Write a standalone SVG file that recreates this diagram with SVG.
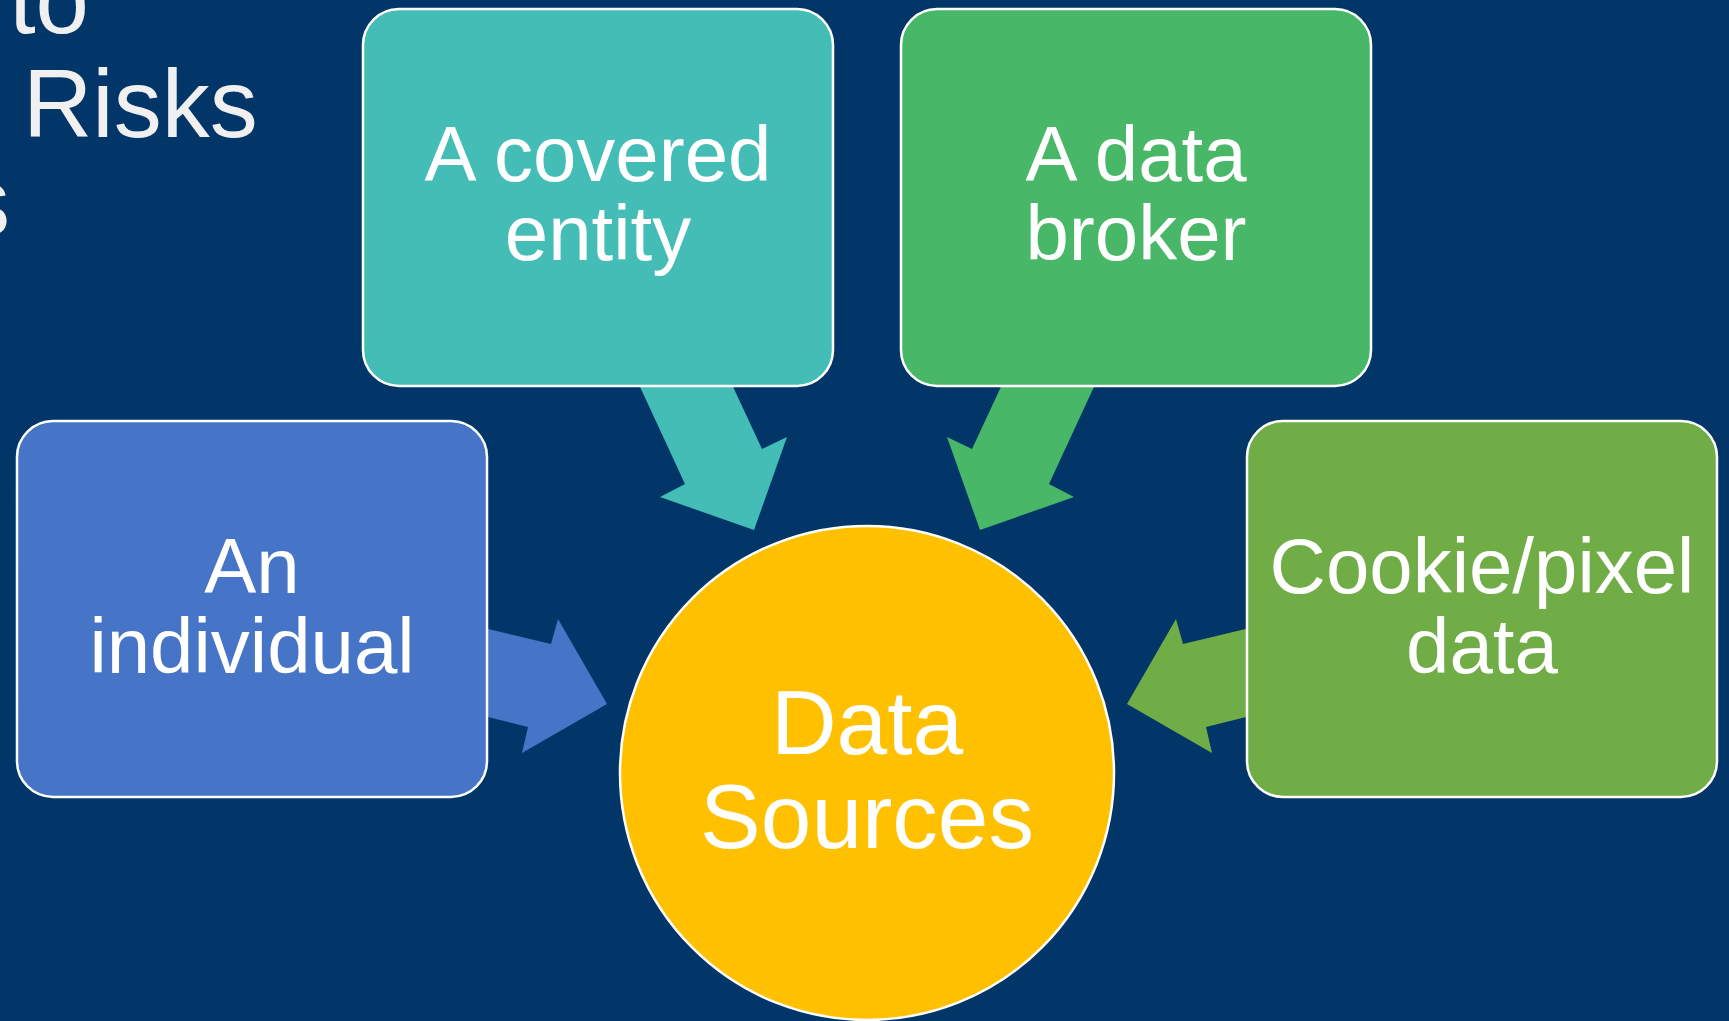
<svg xmlns="http://www.w3.org/2000/svg" width="1729" height="1021" viewBox="0 0 1729 1021">
  <style>
    .title { font-family: "Liberation Sans", Arial, sans-serif; font-size: 96px; fill: #F0F0F0; }
    .box { stroke: #FFFFFF; stroke-width: 2.5; }
    .label { font-family: "Liberation Sans", Arial, sans-serif; font-size: 78px; fill: #FFFFFF; text-anchor: middle; }
    .hub { font-family: "Liberation Sans", Arial, sans-serif; font-size: 91px; fill: #FFFFFF; text-anchor: middle; }
  </style>

  <!-- slide background -->
  <rect x="0" y="0" width="1729" height="1021" fill="#023668"/>

  <!-- partially visible slide title -->
  <g id="title">
    <text class="title" x="89" y="33" text-anchor="end">to</text>
    <text class="title" x="23" y="137">Risks</text>
    <text class="title" x="10" y="235" text-anchor="end">s</text>
  </g>

  <!-- block arrows pointing into the hub -->
  <g id="connectors">
    <polygon fill="#44BDB7" points="635,376 685,484 660,497 754,530 787,437 762,449 728,376"/>
    <polygon fill="#48B767" points="1099,376 1049,484 1074,497 980,530 947,437 972,449 1006,376"/>
    <polygon fill="#4674C6" points="480,627 551,644 558,619 607,704 522,753 528,727 480,715"/>
    <polygon fill="#70AD47" points="1254,627 1183,644 1176,619 1127,704 1212,753 1206,727 1254,715"/>
  </g>

  <g id="node-covered-entity">
    <rect class="box" x="363" y="9" width="470" height="377" rx="36" ry="36" fill="#44BDB7"/>
    <text class="label" x="598" y="181">A covered</text>
    <text class="label" x="598" y="260">entity</text>
  </g>

  <g id="node-data-broker">
    <rect class="box" x="901" y="9" width="470" height="377" rx="36" ry="36" fill="#48B767"/>
    <text class="label" x="1136" y="181">A data</text>
    <text class="label" x="1136" y="260">broker</text>
  </g>

  <g id="node-individual">
    <rect class="box" x="17" y="421" width="470" height="376" rx="36" ry="36" fill="#4674C6"/>
    <text class="label" x="252" y="593">An</text>
    <text class="label" x="252" y="673">individual</text>
  </g>

  <g id="node-cookie-pixel">
    <rect class="box" x="1247" y="421" width="470" height="376" rx="36" ry="36" fill="#70AD47"/>
    <text class="label" x="1482" y="593">Cookie/pixel</text>
    <text class="label" x="1482" y="673">data</text>
  </g>

  <g id="node-data-sources">
    <circle cx="867" cy="773" r="247" fill="#FFC000" stroke="#FFFFFF" stroke-width="2.5"/>
    <text class="hub" x="867" y="754">Data</text>
    <text class="hub" x="867" y="848">Sources</text>
  </g>
</svg>
